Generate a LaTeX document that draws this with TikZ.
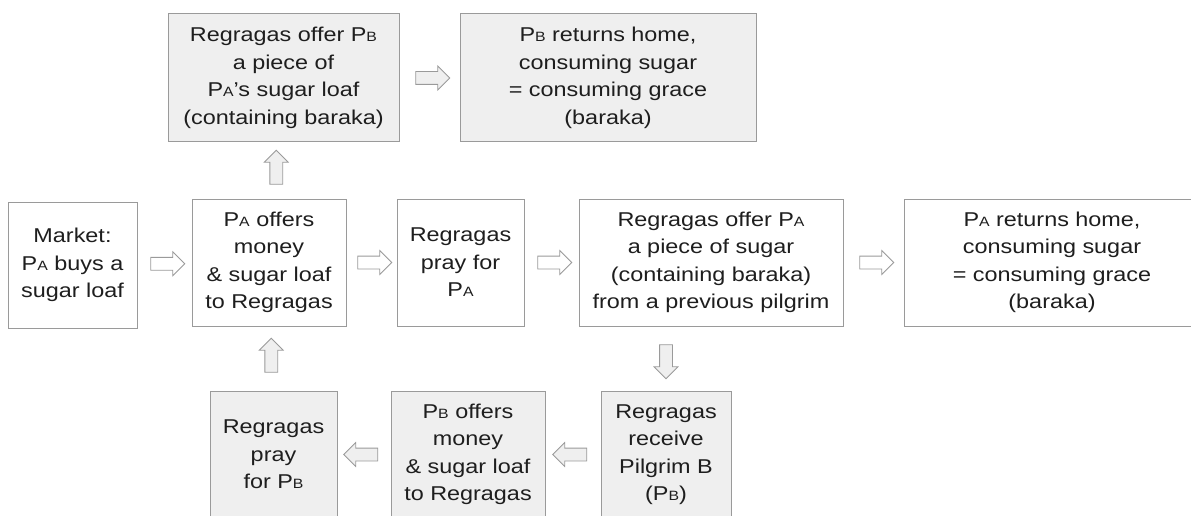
\documentclass[tikz,border=0pt]{standalone}
\usepackage{fontspec}
\setmainfont{Liberation Sans}[FakeStretch=1.17]
\usetikzlibrary{shapes.arrows, calc}

\definecolor{boxline}{HTML}{9A9A9A}
\definecolor{boxgray}{HTML}{EFEFEF}
\definecolor{txtcol}{HTML}{1E1E1E}

% small capital subscript letter after P
\newcommand{\pA}{P{\fontsize{13.5pt}{0pt}\selectfont A}}
\newcommand{\pB}{P{\fontsize{13.5pt}{0pt}\selectfont B}}

\tikzset{
  stage/.style={draw=boxline, line width=1pt, fill=white, text=txtcol, align=center,
    inner sep=0pt, minimum height=127pt, font=\fontsize{20pt}{27.5pt}\selectfont},
  stageB/.style={stage, fill=boxgray},
  flow/.style={single arrow, draw=boxline, line width=0.8pt, fill=white,
    inner xsep=0pt, inner ysep=6pt, single arrow head extend=5.5pt,
    minimum height=34pt, minimum width=23pt},
  flowB/.style={flow, fill=boxgray},
  % vertical arrows: shaft width comes from the horizontal inner sep
  flowV/.style={flowB, inner xsep=6pt, inner ysep=0pt},
}

\begin{document}
\begin{tikzpicture}[x=1pt, y=1pt]

    \useasboundingbox (0,0) rectangle (1191,515);
    \clip (0,0) rectangle (1191,515);

    % --- Middle Row: pilgrim A ---
    \node[stage, minimum width=129pt, minimum height=126pt] (market) at (72.5,250)
        {Market:\\\pA\ buys a\\sugar loaf};
    \node[stage, minimum width=154pt] (offerA) at (269,252.5)
        {\pA\ offers\\money\\\& sugar loaf\\to Regragas};
    \node[stage, minimum width=127pt] (prayA) at (460.5,252.5)
        {Regragas\\pray for\\\pA};
    \node[stage, minimum width=264pt] (pieceA) at (711,252.5)
        {Regragas offer \pA\\a piece of sugar\\(containing baraka)\\from a previous pilgrim};
    \node[stage, minimum width=296pt] (homeA) at (1052,252.5)
        {\pA\ returns home,\\consuming sugar\\= consuming grace\\(baraka)};

    % --- Bottom Row: pilgrim B arrives (right to left) ---
    \node[stageB, minimum width=130pt] (receiveB) at (666,60.5)
        {Regragas\\receive\\Pilgrim B\\(\pB)};
    \node[stageB, minimum width=154pt] (offerB) at (468,60.5)
        {\pB\ offers\\money\\\& sugar loaf\\to Regragas};
    \node[stageB, minimum width=127pt] (prayB) at (273.5,60.5)
        {Regragas\\pray\\for \pB};

    % --- Top Row: pilgrim B leaves ---
    \node[stageB, minimum width=231pt, minimum height=128pt] (pieceB) at (283.5,437)
        {Regragas offer \pB\\a piece of\\\pA’s sugar loaf\\(containing baraka)};
    \node[stageB, minimum width=296pt, minimum height=128pt] (homeB) at (608,437)
        {\pB\ returns home,\\consuming sugar\\= consuming grace\\(baraka)};

    % --- Block arrows, middle row ---
    \node[flow] (a1) at ($(market.east)!0.5!(offerA.west)$) {};
    \node[flow] (a2) at ($(offerA.east)!0.5!(prayA.west)$) {};
    \node[flow] (a3) at ($(prayA.east)!0.5!(pieceA.west)$) {};
    \node[flow] (a4) at ($(pieceA.east)!0.5!(homeA.west)$) {};

    % --- Block arrows, loop of pilgrim B ---
    \node[flowV, shape border rotate=270] (b1)
        at ($(receiveB.north)!0.5!(receiveB.north |- pieceA.south)$) {};
    \node[flowB, shape border rotate=180] (b2) at ($(receiveB.west)!0.5!(offerB.east)$) {};
    \node[flowB, shape border rotate=180] (b3) at ($(offerB.west)!0.5!(prayB.east)$) {};
    \node[flowV, shape border rotate=90] (b4) at ($(prayB.north)!0.5!(offerA.south)$) {};
    \node[flowV, shape border rotate=90] (b5) at ($(offerA.north)!0.5!(pieceB.south)$) {};
    \node[flowB] (b6) at ($(pieceB.east)!0.5!(homeB.west)$) {};

\end{tikzpicture}
\end{document}
